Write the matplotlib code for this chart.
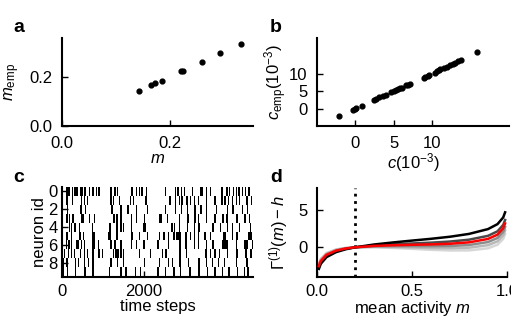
import matplotlib
matplotlib.use('Agg')
import matplotlib.pyplot as plt

plt.rcParams['font.family'] = ['Liberation Sans', 'DejaVu Sans']
plt.rcParams['mathtext.fontset'] = 'custom'
plt.rcParams['mathtext.rm'] = 'Liberation Sans'
plt.rcParams['mathtext.it'] = 'Liberation Sans:italic'
plt.rcParams['font.size'] = 12
plt.rcParams['axes.linewidth'] = 1.5

# a: mean activity, model vs empirical
m_model = [0.144, 0.165, 0.172, 0.186, 0.221, 0.224, 0.260, 0.294, 0.333]
m_emp = [0.144, 0.166, 0.174, 0.186, 0.223, 0.226, 0.262, 0.298, 0.336]

# b: correlations (10^-3)
c_model = [-2.1, -0.3, -0.1, 0.1, 0.9, 2.4, 2.7, 3.1, 3.6, 4.0, 4.7, 5.0, 5.3, 5.5,
           5.8, 6.1, 6.6, 6.9, 7.1, 8.9, 9.1, 9.4, 9.6, 10.4, 10.6, 10.9, 11.0, 11.5,
           11.9, 12.3, 12.7, 13.0, 13.4, 13.8, 15.8]
c_emp = [-2.0, -0.3, -0.1, 0.1, 0.8, 2.5, 2.8, 3.3, 3.6, 4.0, 4.8, 5.1, 5.3, 5.6,
         5.9, 6.1, 6.8, 7.0, 7.2, 8.9, 9.3, 9.6, 9.8, 10.5, 10.8, 11.2, 11.5, 11.8,
         12.2, 12.6, 13.0, 13.4, 13.8, 14.2, 16.5]

# c: raster, (start, length) in time steps for each neuron
raster = [
    [(105, 35), (153, 35), (235, 35), (299, 35), (347, 35), (430, 80), (540, 35), (656, 35),
     (736, 35), (819, 35), (882, 35), (1174, 35), (1271, 35), (1337, 35), (1677, 60),
     (1806, 35), (1871, 35), (1937, 35), (2049, 35), (2503, 35), (2746, 35), (2811, 45),
     (2892, 35), (2973, 35), (3166, 35), (3361, 75), (3507, 35), (3604, 35), (3871, 60),
     (4010, 35), (4075, 35), (4172, 35), (4236, 35), (4301, 35), (4381, 35), (4464, 35),
     (4544, 35)],
    [(105, 35), (235, 35), (462, 35), (527, 35), (608, 35), (1174, 35), (1239, 35),
     (1385, 35), (1660, 35), (1725, 35), (2034, 50), (2617, 50), (2746, 35), (2843, 35),
     (2908, 35), (3037, 35), (3118, 35), (3215, 35), (3312, 35), (3507, 35), (3718, 35),
     (3881, 35), (3961, 35), (4042, 35), (4139, 35), (4236, 35), (4318, 35), (4496, 35),
     (4600, 35)],
    [(121, 35), (445, 45), (559, 35), (1207, 35), (1417, 35), (1596, 35), (1806, 35),
     (2065, 35), (2503, 35), (2746, 35), (2892, 35), (3038, 35), (3232, 35), (3378, 35),
     (3507, 35), (3750, 35), (4025, 35), (4155, 35), (4382, 35), (4511, 35)],
    [(105, 35), (170, 35), (251, 35), (462, 80), (656, 35), (769, 35), (1255, 35),
     (1320, 35), (1417, 35), (1677, 35), (1806, 35), (2001, 35), (2357, 80), (2552, 35),
     (2843, 35), (3038, 60), (3232, 35), (3313, 35), (3507, 35), (3718, 35), (3912, 35),
     (4009, 35), (4236, 50), (4447, 35), (4560, 35)],
    [(170, 35), (219, 35), (300, 35), (413, 35), (721, 35), (1158, 35), (1320, 35),
     (1417, 35), (1482, 35), (1677, 35), (1985, 60), (2665, 35), (2730, 35), (2843, 35),
     (3038, 35), (3216, 35), (3329, 35), (3669, 35), (3847, 35), (4025, 35), (4139, 35),
     (4317, 35), (4576, 35)],
    [(105, 35), (219, 35), (413, 50), (510, 35), (737, 60), (1126, 60), (1320, 35),
     (1677, 50), (1871, 35), (2065, 35), (2357, 35), (2471, 35), (2584, 35), (2714, 35),
     (2778, 120), (3005, 35), (3119, 35), (3216, 35), (3313, 35), (3475, 35), (3604, 35),
     (3928, 80), (4139, 35), (4252, 35), (4528, 100)],
    [(89, 35), (154, 35), (219, 35), (348, 70), (462, 35), (526, 35), (737, 70), (867, 35),
     (1174, 35), (1272, 50), (1417, 35), (1677, 35), (1806, 35), (1985, 35), (2309, 50),
     (2584, 35), (2843, 50), (3005, 35), (3216, 35), (3313, 35), (3507, 35), (3669, 35),
     (3896, 150), (4236, 35), (4430, 100), (4625, 35)],
    [(40, 35), (138, 35), (219, 35), (283, 35), (429, 35), (526, 35), (607, 35), (737, 35),
     (883, 35), (964, 35), (1239, 35), (1304, 35), (1353, 35), (1417, 35), (1482, 35),
     (1871, 35), (2146, 35), (2438, 35), (2519, 35), (2843, 60), (3021, 35), (3491, 35),
     (3604, 35), (3718, 35), (3831, 35), (4025, 35), (4252, 35), (4463, 50), (4592, 35)],
    [(0, 50), (105, 35), (316, 35), (381, 35), (526, 35), (624, 35), (737, 35), (1174, 35),
     (1336, 35), (1482, 35), (2001, 35), (2357, 35), (2584, 35), (2681, 35), (2859, 35),
     (3070, 35), (3329, 35), (3507, 35), (3653, 35), (3799, 35), (3944, 35), (4236, 35),
     (4479, 50)],
    [(24, 35), (121, 35), (316, 35), (543, 35), (737, 35), (1142, 35), (1417, 35),
     (1547, 35), (1774, 35), (1903, 35), (2325, 35), (2503, 35), (2714, 35), (2876, 35),
     (3102, 35), (3329, 35), (3539, 35), (3718, 35), (3896, 35), (4058, 35), (4268, 35),
     (4430, 35), (4511, 50)],
]

# d: Gamma^(1)(m) - h for several couplings
m_grid = [0.01, 0.02, 0.05, 0.1, 0.15, 0.2, 0.3, 0.4, 0.5, 0.6, 0.7, 0.8, 0.9, 0.95, 0.98, 0.99]
gamma_curves = [
    [-2.20, -1.55, -0.76, -0.28, -0.08, 0, 0.01, -0.08, -0.20, -0.33, -0.42, -0.41, -0.13, 0.36, 1.14, 1.79],
    [-2.32, -1.66, -0.85, -0.34, -0.11, 0, 0.07, 0.04, -0.02, -0.09, -0.12, -0.05, 0.29, 0.81, 1.61, 2.27],
    [-2.43, -1.77, -0.94, -0.40, -0.14, 0, 0.13, 0.16, 0.16, 0.15, 0.18, 0.31, 0.71, 1.26, 2.08, 2.74],
    [-2.66, -1.98, -1.12, -0.52, -0.20, 0, 0.25, 0.40, 0.52, 0.63, 0.78, 1.03, 1.55, 2.16, 3.02, 3.69],
    [-2.91, -2.22, -1.32, -0.65, -0.27, 0, 0.38, 0.66, 0.91, 1.15, 1.43, 1.81, 2.46, 3.13, 4.03, 4.72],
]
gamma_red = [-2.54, -1.88, -1.03, -0.46, -0.17, 0, 0.19, 0.28, 0.34, 0.39, 0.48, 0.67, 1.13, 1.71, 2.55, 3.22]
curve_colors = ['#d6d6d6', '#b8b8b8', '#8c8c8c', '#4a4a4a', '#000000']
m_data = 0.2

W, H = 511, 317
fig = plt.figure(figsize=(W / 100, H / 100), dpi=100)


def box(l, r, t, b):
    return [l / W, 1 - b / H, (r - l) / W, (b - t) / H]


def style(ax):
    for s in ['top', 'right']:
        ax.spines[s].set_visible(False)
    ax.tick_params(direction='in', length=4, width=1, pad=7)


ax_a = fig.add_axes(box(62, 253, 38, 126))
ax_b = fig.add_axes(box(317, 509, 38, 126))
ax_c = fig.add_axes(box(62, 253, 187, 277))
ax_d = fig.add_axes(box(317, 507, 188, 277))

# panel a
ax_a.scatter(m_model, m_emp, s=12, color='k', zorder=3)
ax_a.set_xlim(0, 0.355)
ax_a.set_ylim(0, 0.36)
ax_a.set_xticks([0.0, 0.2])
ax_a.set_yticks([0.0, 0.2])
ax_a.set_xlabel('$m$', labelpad=0)
ax_a.set_ylabel(r'$m_{\rm emp}$', labelpad=5)
style(ax_a)

# panel b
ax_b.scatter(c_model, c_emp, s=12, color='k', zorder=3)
ax_b.set_xlim(-5, 20)
ax_b.set_ylim(-5, 20.5)
ax_b.set_xticks([0, 5, 10])
ax_b.set_yticks([0, 5, 10])
ax_b.set_xlabel(r'$c(10^{-3})$', labelpad=0)
ax_b.set_ylabel(r'$c_{\rm emp}(10^{-3})$', labelpad=0)
style(ax_b)

# panel c
for i, row in enumerate(raster):
    ax_c.broken_barh(row, (i - 0.5, 1), facecolors='k', edgecolor='none')
ax_c.set_xlim(0, 4660)
ax_c.set_ylim(9.6, -0.5)
ax_c.set_xticks([0, 2000])
ax_c.set_yticks([0, 2, 4, 6, 8])
ax_c.set_xlabel('time steps', labelpad=0)
ax_c.set_ylabel('neuron id', labelpad=1)
style(ax_c)
ax_c.tick_params(axis='y', pad=3)
ax_c.tick_params(axis='x', pad=5)

# panel d
for vals, col in zip(gamma_curves, curve_colors):
    ax_d.plot(m_grid, vals, color=col, lw=1.8)
ax_d.plot(m_grid, gamma_red, color='#ff0000', lw=1.8, zorder=3)
ax_d.axvline(m_data, color='k', ls=':', lw=2)
ax_d.set_xlim(0, 1.0)
ax_d.set_ylim(-4, 8)
ax_d.set_xticks([0.0, 0.5, 1.0])
ax_d.set_yticks([0, 5])
ax_d.set_xlabel('mean activity $m$', labelpad=0)
ax_d.set_ylabel(r'$\Gamma^{(1)}(m)-h$', labelpad=6)
style(ax_d)
ax_d.tick_params(axis='x', pad=5)

for lab, x, y in [('a', 13, 27), ('b', 270, 27), ('c', 13, 177), ('d', 270, 177)]:
    fig.text(x / W, 1 - y / H, lab, fontsize=14, fontweight='bold', va='center', ha='left')

fig.savefig('out.png', dpi=100)
